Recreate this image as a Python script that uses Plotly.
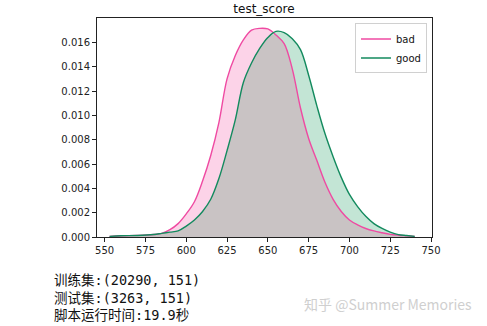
import numpy as np
import plotly.graph_objects as go

# KDE-like density values
score = [553, 560, 570, 580, 585, 590, 595, 600, 605, 610, 615, 620, 625, 630, 635,
         640, 645, 650, 655, 660, 665, 670, 675, 680, 685, 690, 695, 700, 705, 710,
         715, 720, 725, 730, 735, 740]
bad = [0.00005, 0.0001, 0.00013, 0.0002, 0.0003, 0.0006, 0.0011, 0.0019, 0.0029, 0.0046,
       0.0067, 0.0094, 0.0130, 0.0149, 0.0162, 0.0170, 0.01715, 0.0171, 0.0166, 0.0159,
       0.0138, 0.0106, 0.0081, 0.0063, 0.0045, 0.0031, 0.0021, 0.0014, 0.0010, 0.0007,
       0.0005, 0.00035, 0.00022, 0.00015, 0.0001, 0.00005]
good = [0.00005, 0.0001, 0.00012, 0.0002, 0.0003, 0.0004, 0.0005, 0.0009, 0.0014, 0.0021,
        0.0031, 0.0048, 0.0071, 0.0096, 0.0127, 0.0143, 0.0155, 0.0164, 0.0169, 0.0168,
        0.0163, 0.0154, 0.0133, 0.0108, 0.0085, 0.0066, 0.0049, 0.0035, 0.0025, 0.0017,
        0.0011, 0.0007, 0.0004, 0.0002, 0.00012, 0.00005]
series_names = ["bad", "good"]
x_ticks = [550, 575, 600, 625, 650, 675, 700, 725, 750]
y_ticks = [0.000, 0.002, 0.004, 0.006, 0.008, 0.010, 0.012, 0.014, 0.016]
title = "test_score"
info_lines = ["训练集:(20290, 151)", "测试集:(3263, 151)", "脚本运行时间:19.9秒"]
watermark = "知乎 @Summer Memories"

PINK = "#ef4aa2"
PINK_FILL = "#fcd3e8"
GREEN = "#138a5e"
GREEN_FILL = "#c3e5d5"
GRAY_FILL = "#c9c3c4"

overlap = np.minimum(np.array(bad), np.array(good)).tolist()

fig = go.Figure()
fig.add_trace(go.Scatter(x=score, y=bad, mode="lines", line=dict(width=0, shape="spline", color=PINK),
                         fill="tozeroy", fillcolor=PINK_FILL, showlegend=False, hoverinfo="skip"))
fig.add_trace(go.Scatter(x=score, y=good, mode="lines", line=dict(width=0, shape="spline", color=GREEN),
                         fill="tozeroy", fillcolor=GREEN_FILL, showlegend=False, hoverinfo="skip"))
fig.add_trace(go.Scatter(x=score, y=overlap, mode="lines", line=dict(width=0, shape="spline", color=GRAY_FILL),
                         fill="tozeroy", fillcolor=GRAY_FILL, showlegend=False, hoverinfo="skip"))
fig.add_trace(go.Scatter(x=score, y=bad, mode="lines", name=series_names[0],
                         line=dict(width=1.4, shape="spline", color=PINK)))
fig.add_trace(go.Scatter(x=score, y=good, mode="lines", name=series_names[1],
                         line=dict(width=1.4, shape="spline", color=GREEN)))

axis_common = dict(showline=True, linecolor="#222222", linewidth=1, mirror=True,
                   ticks="outside", ticklen=4, tickcolor="#222222", showgrid=False, zeroline=False,
                   tickfont=dict(family="DejaVu Sans", size=10, color="#222222"))

fig.update_layout(
    width=487, height=326,
    margin=dict(l=97, r=55, t=18, b=89),
    paper_bgcolor="white", plot_bgcolor="white",
    title=dict(text=title, x=0.542, xanchor="center", y=0.972, yanchor="middle",
               font=dict(family="DejaVu Sans", size=12, color="#111111")),
    xaxis=dict(range=[545.3, 750.6], tickvals=x_ticks, ticktext=[str(v) for v in x_ticks], **axis_common),
    yaxis=dict(range=[0, 0.018], tickvals=y_ticks, ticktext=[f"{v:.3f}" for v in y_ticks], **axis_common),
    legend=dict(x=0.985, y=0.975, xanchor="right", yanchor="top", bgcolor="white",
                bordercolor="#d0d0d0", borderwidth=1,
                font=dict(family="DejaVu Sans", size=10, color="#111111"),
                itemwidth=30, tracegroupgap=0),
    showlegend=True,
)

fig.add_annotation(text="<br>".join(info_lines), xref="paper", yref="paper",
                   x=-(97 - 52) / (487 - 97 - 55), xanchor="left",
                   y=-(297.5 - 237) / (326 - 18 - 89), yanchor="middle",
                   showarrow=False, align="left",
                   font=dict(family="DejaVu Sans Mono, Noto Sans CJK SC", size=13.5, color="#111111"))

fig.add_annotation(text=watermark, xref="paper", yref="paper",
                   x=(474 - 97) / (487 - 97 - 55), xanchor="right",
                   y=-(304 - 237) / (326 - 18 - 89), yanchor="middle",
                   showarrow=False,
                   font=dict(family="Noto Sans CJK SC", size=14, color="#cfcfcf"))

fig.write_html("out.html")
